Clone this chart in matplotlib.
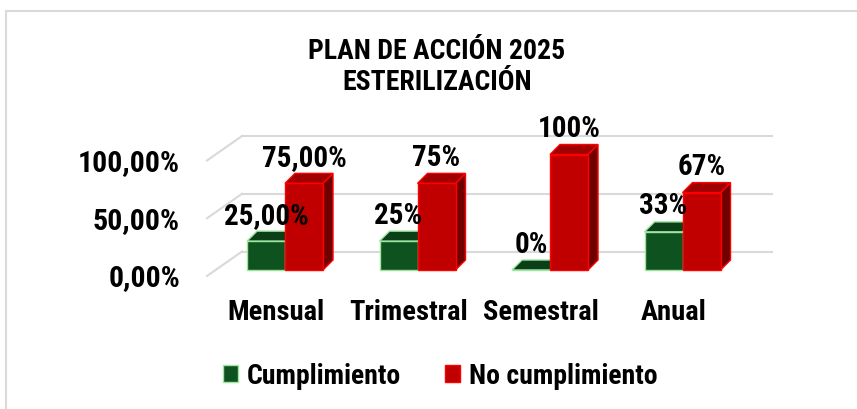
import matplotlib
matplotlib.use("Agg")
import matplotlib.pyplot as plt
from matplotlib import font_manager
from matplotlib.patches import Polygon, Rectangle, Patch

categories = ["Mensual", "Trimestral", "Semestral", "Anual"]
cumplimiento = [25, 25, 0, 33]
no_cumplimiento = [75, 75, 100, 67]
labels_cumpl = ["25,00%", "25%", "0%", "33%"]
labels_no = ["75,00%", "75%", "100%", "67%"]
grid_values = [0, 50, 100]
grid_labels = ["0,00%", "50,00%", "100,00%"]
series_names = ["Cumplimiento", "No cumplimiento"]


def pick_font():
    for name in ["Liberation Sans Narrow", "Roboto Condensed", "Liberation Sans"]:
        try:
            font_manager.findfont(font_manager.FontProperties(family=name),
                                  fallback_to_default=False)
            return name
        except ValueError:
            pass
    return "DejaVu Sans"


FONT = pick_font()
plt.rcParams['font.family'] = [FONT, 'DejaVu Sans']
plt.rcParams['font.weight'] = 'bold'

W, H = 857, 410
# pixel scale of the chart area
px_cat = 132.5      # pixels per category
px_pct = 1.155      # pixels per percent
x0_px, y0_px = 285, 271

fig = plt.figure(figsize=(W / 100, H / 100), dpi=100)
ax_left = x0_px - 0.5 * px_cat
ax_bottom = y0_px + 20 * px_pct
ax = fig.add_axes([ax_left / W, (H - ax_bottom) / H, 4 * px_cat / W, 140 * px_pct / H])
ax.set_xlim(-0.5, 3.5)
ax.set_ylim(-20, 120)
ax.set_axis_off()

# depth offsets (bars and floor/back wall), in data units
bdx, bdy = 10 / px_cat, 10 / px_pct
floor_front = -6 / px_pct
wall_dx, wall_dy = 35 / px_cat, 24.5 / px_pct
wall_left = (207 - x0_px) / px_cat
wall_right = (772 - x0_px) / px_cat

grid_col = '#d9d9d9'
for g, lab in zip(grid_values, grid_labels):
    yf = g + floor_front
    ax.plot([wall_left, wall_left + wall_dx], [yf, yf + wall_dy],
            color=grid_col, lw=1.5, zorder=1, clip_on=False)
    ax.plot([wall_left + wall_dx, wall_right], [yf + wall_dy, yf + wall_dy],
            color=grid_col, lw=1.5, zorder=1, clip_on=False)
    ax.text((180 - x0_px) / px_cat, yf - 1.5 / px_pct, lab, ha='right', va='center',
            fontsize=21.5, fontweight='bold')

w = 38 / px_cat
styles = [
    dict(front='#0e5220', top='#0a3f17', side='#083212', edge='#9fe5a0'),
    dict(front='#c00000', top='#a00000', side='#700000', edge='#ff0000'),
]


def draw_bar3d(left, v, st, z):
    ax.bar(left + w / 2, v, width=w, color=st['front'], edgecolor=st['edge'],
           lw=1, zorder=z + 1)
    top = [(left, v), (left + w, v), (left + w + bdx, v + bdy), (left + bdx, v + bdy)]
    side = [(left + w, 0), (left + w + bdx, bdy), (left + w + bdx, v + bdy), (left + w, v)]
    ax.add_patch(Polygon(side, closed=True, fc=st['side'], ec=st['edge'], lw=1, zorder=z))
    ax.add_patch(Polygon(top, closed=True, fc=st['top'], ec=st['edge'], lw=1, zorder=z))


for i in range(len(categories)):
    draw_bar3d(i - w, cumplimiento[i], styles[0], 2)
    draw_bar3d(i, no_cumplimiento[i], styles[1], 4)

for i in range(len(categories)):
    ax.annotate(labels_cumpl[i], (i - w / 2, cumplimiento[i]), xytext=(0, 19),
                textcoords='offset points', ha='center', va='center',
                fontsize=21, fontweight='bold', zorder=10)
    ax.annotate(labels_no[i], (i + w / 2, no_cumplimiento[i]), xytext=(0, 19),
                textcoords='offset points', ha='center', va='center',
                fontsize=21, fontweight='bold', zorder=10)
    ax.text(i - 9 / px_cat, (y0_px - 313) / px_pct, categories[i], ha='center',
            va='center', fontsize=20.5, fontweight='bold')

fig.text(437 / W, 1 - 67 / H, "PLAN DE ACCIÓN 2025\nESTERILIZACIÓN", ha='center',
         va='center', fontsize=20, fontweight='bold', linespacing=1.2)

handles = [Patch(fc=st['front'], ec=st['edge'], lw=1) for st in styles]
fig.legend(handles, series_names, loc='center', bbox_to_anchor=(440 / W, 1 - 377 / H),
           ncol=2, frameon=False, fontsize=20, handlelength=0.55, handleheight=0.55,
           handletextpad=0.3, columnspacing=1.6)

# light outer frame of the chart area
fig.add_artist(Rectangle((5.7 / W, -0.1), 1.2, 1.1 - 11.7 / H, transform=fig.transFigure,
                         fill=False, ec=grid_col, lw=1.5))

fig.savefig('out.png', dpi=100)
